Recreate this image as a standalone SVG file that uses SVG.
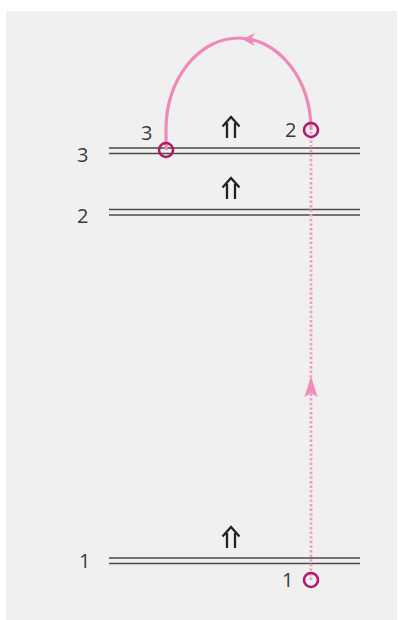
<svg xmlns="http://www.w3.org/2000/svg" width="398" height="620" viewBox="0 0 398 620">
<style>
.lvl{stroke:#4a4a4a;stroke-width:1.6;fill:none}
.up{stroke:#222;stroke-width:2.3;fill:none;stroke-linejoin:miter}
.t{font-family:"Open Sans","Noto Sans",sans-serif;font-size:20px;fill:#3a3a3a}
.c{fill:none;stroke:#b01a6c;stroke-width:2.6}
</style>
<defs>
<g id="uparrow">
<path d="M-8.5,9.5 L0,0 L8.5,9.5 M-4,6 V21 M4,6 V21"/>
</g>
</defs>
<rect x="0" y="0" width="398" height="620" fill="#ffffff"/>
<rect x="6" y="11" width="391" height="609" fill="#f0f0f0"/>
<g id="level3">
<path class="lvl" d="M109,148 H360 M109,153.5 H360"/>
<text class="t" x="77" y="162">3</text>
<use href="#uparrow" class="up" x="231" y="117"/>
</g>
<g id="level2">
<path class="lvl" d="M109,209.5 H360 M109,215 H360"/>
<text class="t" x="77" y="223">2</text>
<use href="#uparrow" class="up" x="231" y="178"/>
</g>
<g id="level1">
<path class="lvl" d="M109,558 H360 M109,563.5 H360"/>
<text class="t" x="79" y="568">1</text>
<use href="#uparrow" class="up" x="231" y="527"/>
</g>
<g id="connectors">
<path d="M311,580 V130" stroke="#f29ac4" stroke-width="2.8" stroke-dasharray="2.4 2.2" fill="none"/>
<polygon points="311,376 317.5,397 311,393 304.5,397" fill="#f28cbd"/>
<path d="M166,150 V130 A72.5,92 0 0 1 311,130" stroke="#ef8ab8" stroke-width="3.2" fill="none"/>
<polygon points="242,39.3 255,33 251,39.3 255,46" fill="#ef8ab8"/>
</g>
<g id="state3">
<circle class="c" cx="166" cy="150" r="7"/>
<text class="t" x="141" y="140">3</text>
</g>
<g id="state2">
<circle class="c" cx="311" cy="130" r="7"/>
<text class="t" x="285" y="137">2</text>
</g>
<g id="state1">
<circle class="c" cx="311" cy="580" r="7"/>
<text class="t" x="282" y="587">1</text>
</g>
</svg>
